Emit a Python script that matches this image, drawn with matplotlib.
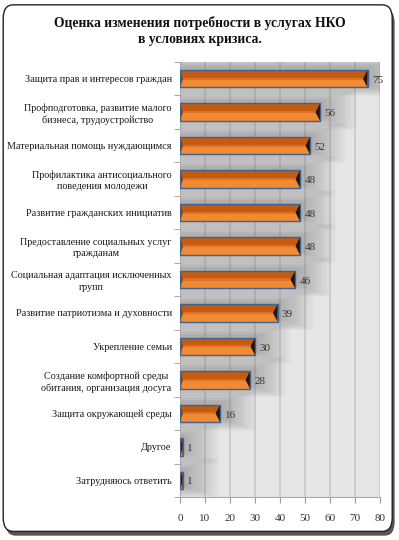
import matplotlib

matplotlib.use('Agg')
import matplotlib.pyplot as plt
from matplotlib.patches import FancyBboxPatch, Polygon

plt.rcParams['font.family'] = ['Liberation Serif', 'DejaVu Serif']

# данные диаграммы
categories = [
    "Защита прав и интересов граждан",
    "Профподготовка, развитие малого\nбизнеса, трудоустройство",
    "Материальная помощь нуждающимся",
    "Профилактика антисоциального\nповедения молодежи",
    "Развитие гражданских инициатив",
    "Предоставление социальных услуг\nгражданам",
    "Социальная адаптация исключенных\nгрупп",
    "Развитие патриотизма и духовности",
    "Укрепление семьи",
    "Создание комфортной среды\nобитания, организация досуга",
    "Защита окружающей среды",
    "Другое",
    "Затрудняюсь ответить",
]
values = [75, 56, 52, 48, 48, 48, 46, 39, 30, 28, 16, 1, 1]
x_ticks = [0, 10, 20, 30, 40, 50, 60, 70, 80]

title = "Оценка изменения потребности в услугах НКО\nв условиях кризиса."

fig = plt.figure(figsize=(3.99, 5.40), dpi=100)

# рамка с тенью
shadow = FancyBboxPatch((0.014, 0.008), 0.975, 0.975, transform=fig.transFigure,
                        boxstyle="round,pad=0,rounding_size=0.025",
                        facecolor='#555555', edgecolor='none', zorder=-6)
frame = FancyBboxPatch((0.008, 0.016), 0.975, 0.975, transform=fig.transFigure,
                       boxstyle="round,pad=0,rounding_size=0.025",
                       facecolor='white', edgecolor='#222222', linewidth=1.0, zorder=-5)
fig.patches.extend([shadow, frame])

fig.text(0.5, 1 - 31 / 540, title, ha='center', va='center', ma='center',
         fontsize=9.8, fontweight='bold', linespacing=1.35, color='#111111')

ax = fig.add_axes([180 / 399, 1 - 497 / 540, 200 / 399, 435 / 540])
ax.set_facecolor('#E6E6E6')

pos = list(range(len(values)))
h = 0.52

# размытая тень под полосами
for k in range(16):
    ax.barh([p - 0.08 for p in pos], [v + 1 + 0.9 * k for v in values],
            height=h + 0.045 * k, color='#666666', alpha=0.03, zorder=1, linewidth=0)

# объёмные полосы
ax.barh([p - h / 4 for p in pos], values, height=h / 2, color='#C55A11', zorder=3, linewidth=0)
ax.barh([p + h / 4 for p in pos], values, height=h / 2, color='#F08A33', zorder=3, linewidth=0)
ax.barh(pos, values, height=0.06, color='#DC7128', zorder=3, linewidth=0)
for p, v in zip(pos, values):
    lw_ = min(1.2, v)
    ax.add_patch(Polygon([(0, p - h / 2), (lw_, p), (0, p + h / 2)],
                         closed=True, color='#8A3E0C', zorder=4, linewidth=0))
    rw = min(1.8, v)
    ax.add_patch(Polygon([(v, p - h / 2), (v - rw, p), (v, p + h / 2)],
                         closed=True, color='#24160A', zorder=4, linewidth=0))
ax.barh(pos, values, height=h, fill=False, edgecolor='#41618F', linewidth=1.0, zorder=5)

for p, v in zip(pos, values):
    ax.text(v + 1.8, p + 0.05, str(v), va='center', ha='left', fontsize=8, color='#333333')

ax.set_xlim(0, 80)
ax.set_ylim(len(values) - 0.5, -0.5)
ax.set_xticks(x_ticks)
ax.set_yticks(pos)
ax.set_yticklabels(categories)
for t in ax.get_yticklabels():
    t.set_multialignment('center')
    t.set_linespacing(1.3)
ax.set_yticks([p - 0.5 for p in pos] + [len(values) - 0.5], minor=True)
ax.tick_params(axis='y', which='major', length=0, pad=6, labelsize=7.3, labelcolor='#1a1a1a')
ax.tick_params(axis='y', which='minor', length=4, color='#999999')
ax.tick_params(axis='x', length=4, color='#999999', labelsize=8, labelcolor='#333333', pad=8)

ax.grid(axis='x', color='#C9C9C9', linewidth=1.2, zorder=0.5)
ax.set_axisbelow(True)
for s in ['top', 'right']:
    ax.spines[s].set_visible(False)
for s in ['left', 'bottom']:
    ax.spines[s].set_color('#AAAAAA')

fig.savefig('out.png', dpi=100)
